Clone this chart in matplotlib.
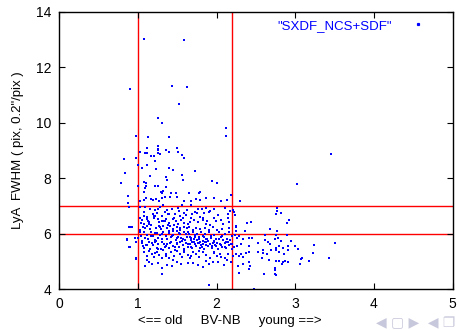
import matplotlib
matplotlib.use("Agg")
import matplotlib.pyplot as plt
from matplotlib.lines import Line2D

plt.rcParams['font.family'] = ['Liberation Sans', 'DejaVu Sans']

# sparse points above the main clump (BV-NB, FWHM)
high_x = [1.08, 1.59, 0.90, 1.43, 1.62, 1.52, 1.26, 1.31, 2.12, 2.12, 0.97, 1.13, 1.40,
          1.25, 1.49, 1.11, 0.82, 0.97, 1.03, 1.09, 1.11, 1.17, 1.20, 1.22, 1.25, 1.26,
          1.28, 1.35, 1.40, 1.51, 1.56, 1.58, 1.12, 1.00, 1.05, 1.39, 3.45, 3.02, 2.30,
          1.25, 1.45, 1.23, 1.73, 0.84, 1.15, 1.56, 1.35, 1.37, 1.57, 0.78, 1.08, 1.10,
          1.10, 1.09, 1.07, 1.00, 1.22, 1.25, 1.35, 1.32, 1.31, 1.29, 1.42, 1.48, 1.65,
          1.78, 1.79, 1.94, 2.00, 0.87, 2.18]
high_y = [13.01, 13.00, 11.23, 11.34, 11.30, 10.68, 10.17, 10.00, 9.80, 9.52, 9.52, 9.49, 9.48,
          9.16, 9.10, 9.10, 8.69, 8.72, 8.94, 8.90, 8.92, 8.81, 8.81, 8.63, 9.00, 8.90,
          8.88, 9.00, 8.94, 8.96, 8.85, 8.72, 8.47, 8.47, 8.38, 8.38, 8.88, 7.78, 7.19,
          9.07, 8.29, 8.33, 8.27, 8.20, 8.08, 8.12, 8.03, 7.95, 7.94, 7.84, 7.87, 7.82,
          7.72, 7.65, 7.51, 7.72, 7.72, 7.72, 7.68, 7.54, 7.48, 7.49, 7.48, 7.48, 7.48,
          7.48, 7.51, 7.89, 7.84, 7.36, 7.39]

# main clump, 1 < BV-NB < 2.3
mid_x = [0.87, 1.02, 1.07, 1.10, 1.16, 1.19, 1.23, 1.27, 1.30, 1.34, 1.41, 1.49, 1.59, 1.67,
         1.74, 1.79, 1.86, 1.96, 2.06, 2.13,
         1.03, 1.09, 1.15, 1.22, 1.28, 1.32, 1.37, 1.43, 1.51, 1.56, 1.62, 1.68, 1.76, 1.81,
         1.87, 1.92, 1.97, 2.10, 2.17, 2.21,
         1.07, 1.12, 1.19, 1.24, 1.31, 1.34, 1.40, 1.47, 1.53, 1.59, 1.69, 1.73, 1.79, 1.84,
         1.90, 2.02, 2.15, 2.23,
         1.05, 1.11, 1.14, 1.20, 1.25, 1.27, 1.31, 1.36, 1.39, 1.44, 1.48, 1.51, 1.55, 1.59,
         1.63, 1.66, 1.71, 1.76, 1.82, 1.86, 1.92, 1.99, 2.08, 2.16, 2.24,
         0.88, 0.93, 1.06, 1.09, 1.12, 1.17, 1.23, 1.28, 1.32, 1.37, 1.41, 1.45, 1.49, 1.54,
         1.58, 1.62, 1.65, 1.70, 1.74, 1.79, 1.85, 1.90, 1.95, 2.00, 2.07, 2.16, 2.24,
         0.86, 0.96, 1.03, 1.04, 1.07, 1.09, 1.11, 1.13, 1.16, 1.19, 1.21, 1.24, 1.26, 1.28,
         1.31, 1.32, 1.35, 1.37, 1.40, 1.42, 1.45, 1.48, 1.49, 1.51, 1.54, 1.57, 1.59, 1.62,
         1.65, 1.67, 1.70, 1.72, 1.75, 1.77, 1.80, 1.82, 1.85, 1.87, 1.90, 1.93, 1.96, 1.99,
         2.03, 2.06, 2.10, 2.13, 2.16, 2.20, 2.23, 2.26,
         0.89, 0.98, 1.05, 1.07, 1.10, 1.14, 1.15, 1.19, 1.21, 1.24, 1.26, 1.29, 1.31, 1.34,
         1.37, 1.39, 1.42, 1.44, 1.47, 1.49, 1.52, 1.54, 1.57, 1.59, 1.61, 1.64, 1.66, 1.69,
         1.71, 1.74, 1.76, 1.79, 1.82, 1.84, 1.87, 1.89, 1.92, 1.94, 1.97, 1.99, 2.02, 2.04,
         2.07, 2.10, 2.12, 2.16, 2.19, 2.22, 2.26,
         0.97, 1.08, 1.11, 1.14, 1.18, 1.20, 1.24, 1.27, 1.30, 1.32, 1.36, 1.39, 1.42, 1.46,
         1.49, 1.53, 1.56, 1.59, 1.63, 1.66, 1.70, 1.74, 1.78, 1.82, 1.87, 1.92, 1.97, 2.01,
         2.06, 2.11, 2.15, 2.21, 2.25,
         1.09, 1.14, 1.18, 1.25, 1.31, 1.37, 1.43, 1.49, 1.55, 1.64, 1.70, 1.76, 1.83, 1.90,
         1.95, 2.02, 2.09, 2.13, 1.31, 1.90,
         0.84, 0.87, 0.88, 0.91, 0.86, 0.90, 0.97, 1.00]
mid_y = [7.36, 7.18, 7.20, 7.30, 7.25, 7.21, 7.26, 7.18, 7.29, 7.32, 7.33, 7.33, 7.19, 7.18,
         7.25, 7.23, 7.30, 7.27, 7.18, 7.23,
         6.95, 6.97, 6.88, 6.87, 6.95, 7.03, 6.85, 6.89, 6.91, 7.03, 6.85, 7.03, 6.88, 6.88,
         6.94, 6.83, 6.88, 6.91, 6.82, 6.87,
         6.65, 6.60, 6.70, 6.73, 6.65, 6.77, 6.72, 6.72, 6.65, 6.74, 6.70, 6.79, 6.61, 6.73,
         6.77, 6.66, 6.70, 6.67,
         6.49, 6.53, 6.43, 6.55, 6.52, 6.41, 6.46, 6.53, 6.37, 6.53, 6.46, 6.36, 6.48, 6.38,
         6.33, 6.43, 6.49, 6.41, 6.48, 6.33, 6.31, 6.46, 6.33, 6.41, 6.29,
         6.24, 6.23, 6.25, 6.22, 6.28, 6.31, 6.22, 6.24, 6.29, 6.19, 6.26, 6.17, 6.23, 6.14,
         6.24, 6.19, 6.24, 6.14, 6.22, 6.17, 6.19, 6.14, 6.24, 6.12, 6.17, 6.19, 6.10,
         5.79, 5.83, 6.05, 5.90, 6.07, 5.85, 5.95, 5.81, 6.05, 5.90, 5.78, 6.01, 5.85, 5.95,
         5.79, 6.07, 5.90, 5.81, 6.01, 5.87, 5.95, 5.77, 6.10, 5.89, 5.97, 5.81, 6.05, 5.89,
         5.97, 5.78, 6.05, 5.88, 5.97, 5.81, 6.07, 5.90, 5.97, 5.81, 6.05, 5.85, 5.95, 5.81,
         6.05, 5.88, 5.97, 5.81, 6.07, 5.90, 5.95, 5.83,
         5.52, 5.71, 5.65, 5.47, 5.59, 5.69, 5.45, 5.59, 5.71, 5.49, 5.61, 5.45, 5.69, 5.53,
         5.64, 5.47, 5.71, 5.57, 5.42, 5.65, 5.52, 5.71, 5.59, 5.45, 5.66, 5.53, 5.63, 5.47,
         5.69, 5.55, 5.65, 5.49, 5.61, 5.45, 5.69, 5.54, 5.64, 5.47, 5.71, 5.57, 5.45, 5.64,
         5.52, 5.66, 5.49, 5.59, 5.64, 5.52, 5.57,
         5.11, 5.35, 5.21, 5.37, 5.25, 5.16, 5.35, 5.23, 5.11, 5.40, 5.28, 5.13, 5.32, 5.21,
         5.37, 5.25, 5.16, 5.35, 5.23, 5.11, 5.35, 5.25, 5.16, 5.32, 5.23, 5.13, 5.30, 5.21,
         5.16, 5.11, 5.28, 5.18, 5.25,
         4.84, 4.99, 4.89, 4.94, 4.77, 4.87, 4.82, 4.99, 4.89, 4.94, 4.94, 4.87, 4.80, 4.89,
         4.99, 4.96, 4.87, 5.04, 4.54, 4.14,
         8.19, 7.12, 6.97, 6.25, 5.77, 5.51, 5.08, 5.85]

# the densest band, 5.4 < FWHM < 6.8
band_x = [1.02, 1.05, 1.08, 1.12, 1.15, 1.18, 1.22, 1.25, 1.29, 1.33, 1.36, 1.38, 1.41, 1.44,
          1.47, 1.50, 1.53, 1.56, 1.58, 1.61, 1.64, 1.67, 1.69, 1.72, 1.75, 1.78, 1.80, 1.83,
          1.86, 1.88, 1.91, 1.94, 1.97, 2.01, 2.05, 2.08, 2.11, 2.14, 2.18,
          1.04, 1.06, 1.13, 1.17, 1.20, 1.23, 1.27, 1.30, 1.34, 1.35, 1.39, 1.43, 1.46, 1.50,
          1.52, 1.55, 1.60, 1.63, 1.66, 1.68, 1.71, 1.73, 1.77, 1.79, 1.81, 1.84, 1.85, 1.89,
          1.93, 1.95, 1.98, 2.03, 2.07, 2.12, 2.17, 2.19,
          1.03, 1.08, 1.14, 1.21, 1.26, 1.33, 1.38, 1.46, 1.52, 1.57, 1.61, 1.68, 1.75, 1.83,
          1.88, 1.97, 2.05, 2.14, 1.12, 1.22, 1.35, 1.45, 1.58, 1.67, 1.77, 1.86, 1.96, 2.04,
          2.18]
band_y = [6.12, 5.74, 6.33, 5.58, 6.18, 5.68, 6.02, 5.46, 6.15, 5.62, 5.93, 6.32, 5.66, 6.08,
          5.52, 5.86, 6.21, 5.73, 5.42, 5.99, 5.61, 5.83, 5.70, 5.62, 5.77, 5.66, 5.58, 5.72,
          5.60, 5.79, 5.64, 5.55, 5.74, 5.68, 5.60, 5.78, 5.52, 5.70, 5.63,
          6.38, 5.56, 6.46, 5.93, 6.62, 5.73, 6.28, 5.97, 6.44, 5.57, 6.11, 5.91, 6.32, 5.64,
          6.02, 5.85, 5.77, 6.06, 5.89, 5.51, 5.82, 5.95, 5.88, 5.71, 5.53, 5.87, 5.69, 5.75,
          5.90, 5.66, 5.58, 5.80, 5.92, 5.70, 5.76, 5.44,
          6.58, 6.79, 6.36, 6.63, 6.88, 6.47, 6.71, 6.58, 6.81, 6.55, 6.68, 6.57, 6.76, 6.58,
          6.45, 6.57, 6.48, 6.56, 5.05, 5.30, 5.18, 5.06, 5.33, 5.20, 5.38, 5.02, 5.34, 5.26,
          4.98]

# redder tail, BV-NB > 2.2
low_x = [2.77, 2.77, 2.82, 2.76, 2.92, 2.90, 2.38, 2.44, 2.68, 2.77, 2.36, 2.25, 2.61, 2.75,
         2.89, 2.45, 2.78, 2.29, 2.34, 2.41, 2.61, 2.74, 2.82, 2.95, 2.65, 2.68, 2.52, 2.31,
         2.41, 2.79, 2.91, 2.99, 3.24, 3.50, 3.03, 2.75, 2.84, 2.59, 2.69, 2.75, 2.91, 2.53,
         2.59, 2.64, 2.79, 2.86, 3.23, 2.31, 2.37, 2.41, 2.29, 2.33, 2.58, 2.66, 3.09, 3.07,
         3.43, 3.18, 2.75, 2.79, 2.84, 2.87, 2.91, 2.83, 3.06, 2.41, 2.34, 2.27, 2.42, 2.74,
         2.74, 2.41, 2.29, 2.60, 2.74, 2.75, 2.48, 2.22]
low_y = [6.93, 6.81, 6.73, 6.70, 6.49, 6.38, 6.39, 6.42, 6.17, 6.09, 6.09, 6.25, 5.94, 5.94,
         5.94, 5.85, 5.85, 5.92, 5.80, 5.85, 5.77, 5.81, 5.74, 5.73, 5.70, 5.64, 5.67, 5.62,
         5.56, 5.54, 5.54, 5.55, 5.60, 5.65, 5.45, 5.50, 5.50, 5.41, 5.40, 5.41, 5.40, 5.34,
         5.31, 5.26, 5.34, 5.26, 5.29, 5.26, 5.30, 5.35, 5.19, 5.16, 5.11, 5.04, 5.13, 5.07,
         5.13, 5.00, 5.02, 5.02, 4.99, 5.01, 4.96, 4.90, 4.89, 4.99, 4.90, 4.84, 4.83, 4.75,
         4.70, 4.71, 4.57, 4.54, 4.54, 4.51, 4.02, 6.78]

bv_nb = high_x + mid_x + band_x + low_x
fwhm = high_y + mid_y + band_y + low_y

x_cuts = [1.0, 2.2]
y_cuts = [6.0, 7.0]

fig = plt.figure(figsize=(4.6, 3.3), dpi=100)
ax = fig.add_axes([0.129, 0.124, 0.855, 0.840])

for xc in x_cuts:
    ax.axvline(xc, color='#ff0000', lw=1.0, zorder=1)
for yc in y_cuts:
    ax.axhline(yc, color='#ff0000', lw=1.0, zorder=1)

ax.scatter(bv_nb, fwhm, s=3, marker='s', color='#0000ff', linewidths=0, zorder=2)

ax.set_xlim(0, 5)
ax.set_ylim(4, 14)
ax.set_xticks([0, 1, 2, 3, 4, 5])
ax.set_yticks([4, 6, 8, 10, 12, 14])
ax.tick_params(direction='in', length=4, width=0.8, top=True, right=True,
               labelsize=10, pad=6)
for sp in ax.spines.values():
    sp.set_linewidth(1.0)

# gnuplot centres the x label on the whole canvas, not on the axes
ax.set_xlabel('<== old     BV-NB     young ==>', fontsize=9.5, labelpad=3)
ax.xaxis.set_label_coords(0.434, -0.095)
ax.set_ylabel('LyA  FWHM ( pix, 0.2"/pix )', fontsize=9.5, labelpad=8)

key = Line2D([], [], ls='none', marker='s', ms=1.3, color='#0000ff')
ax.legend([key], ['"SXDF_NCS+SDF"'], loc='upper right', frameon=False,
          bbox_to_anchor=(0.97, 1.0), markerfirst=False, labelcolor='#0000ff',
          fontsize=9.5, borderaxespad=0.3, borderpad=0.3, handlelength=2.2,
          handletextpad=0.9)

# beamer navigation symbols
fig.text(0.99, 0.0, '◀ ▢ ▶  ◀ ❐', ha='right', va='bottom', fontsize=10,
         color='#c8c8dc', family=['DejaVu Sans'])

fig.savefig('out.png', dpi=100)
